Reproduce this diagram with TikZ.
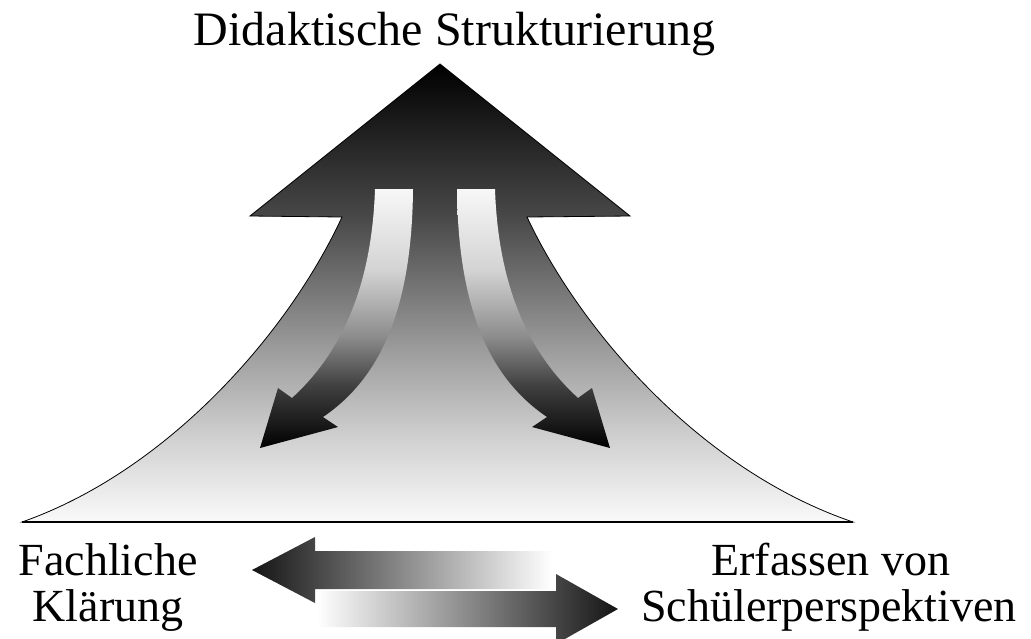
\documentclass[tikz,border=0pt]{standalone}
\usepackage{fontspec}
\setmainfont{Liberation Serif}

% grey ramp of the hill: black at the apex, almost white at the base
\pgfdeclareverticalshading{hillfade}{100bp}{%
  color(0bp)=(black!2); color(25bp)=(black!2); color(34bp)=(black!18);
  color(43bp)=(black!37); color(58.5bp)=(black!72); color(75bp)=(black);
  color(100bp)=(black)}
% grey ramp of the two bent arrows: white at the top, black at the tips
\pgfdeclareverticalshading{bendfade}{100bp}{%
  color(0bp)=(black); color(25bp)=(black); color(37bp)=(black!75);
  color(46.5bp)=(black!45); color(59.5bp)=(black!17); color(75bp)=(black!3);
  color(100bp)=(black!3)}

\begin{document}
\begin{tikzpicture}[x=1pt,y=-1pt,
  headtxt/.style={font=\fontsize{48}{48}\selectfont, inner sep=0pt, anchor=base},
  sidetxt/.style={font=\fontsize{46}{46}\selectfont, inner sep=0pt, anchor=base},
  hill/.style={shade, shading=hillfade, draw=black, line width=0.8pt, line join=miter},
  bentarrow/.style={shade, shading=bendfade},
  fadeleft/.style={shade, left color=black!92, right color=white},
  faderight/.style={shade, left color=white, right color=black!92}]
\clip (0,0) rectangle (1031,638);

% the hill with the big upward arrow head
\path[hill] (440,64) -- (630,216) -- (527,217)
  .. controls (580,330) and (700,470) .. (853,522)
  -- (22,522)
  .. controls (170,470) and (290,330) .. (342,217)
  -- (250,216) -- cycle;
\draw[line width=1.6pt] (22,522) -- (853,522);

% bent arrow turning down to the left
\path[bentarrow] (375,189) -- (413,189)
  .. controls (412,300) and (385,375) .. (323,417)
  -- (338,427) -- (260,448) -- (278,388) -- (292,398)
  .. controls (345,350) and (372,280) .. (375,189) -- cycle;
% bent arrow turning down to the right
\path[bentarrow] (495,189) -- (457,189)
  .. controls (458,300) and (485,375) .. (547,417)
  -- (532,427) -- (610,448) -- (592,388) -- (578,398)
  .. controls (525,350) and (498,280) .. (495,189) -- cycle;

% labels
\node[headtxt] (top) at (454.5,45) {Didaktische Strukturierung};
\node[sidetxt] (fach1) at (108,575) {Fachliche};
\node[sidetxt] (fach2) at (108,621) {Klärung};
\node[sidetxt] (erf1) at (831,575) {Erfassen von};
\node[sidetxt] (erf2) at (829,621) {Schülerperspektiven};

% the two fading horizontal arrows between the labels
\path[fadeleft] (252,570) -- (315,537) -- (315,551) -- (552,551)
  -- (552,589) -- (315,589) -- (315,603) -- cycle;
\path[faderight] (317,591) -- (556,591) -- (556,574) -- (618,609)
  -- (556,644) -- (556,627) -- (317,627) -- cycle;
\end{tikzpicture}
\end{document}
